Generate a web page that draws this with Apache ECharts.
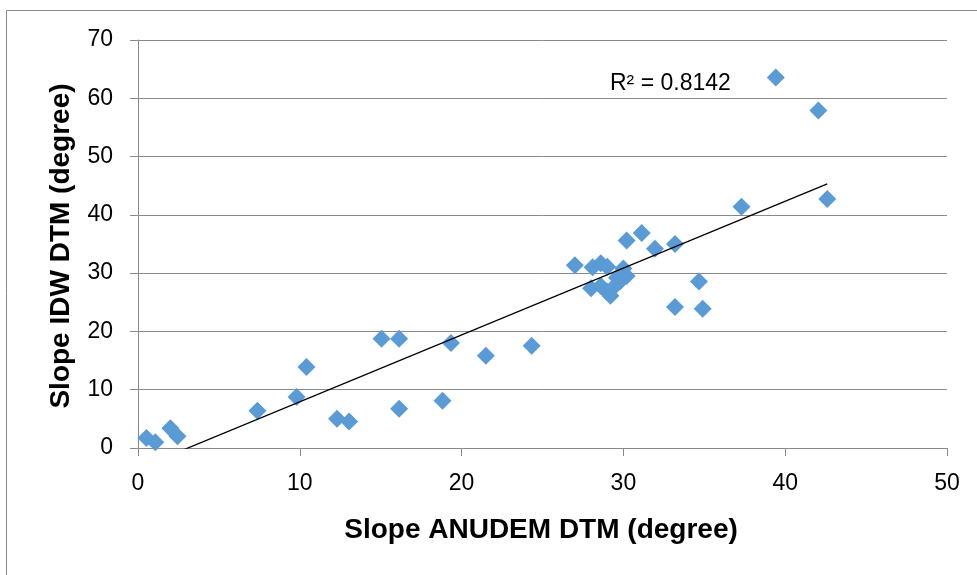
<!DOCTYPE html>
<html>
<head>
<meta charset="utf-8">
<title>Slope comparison</title>
<script src="https://cdn.jsdelivr.net/npm/echarts@6/dist/echarts.min.js"></script>
<style>
  html, body { margin: 0; padding: 0; background: #fff; }
  #chart { width: 977px; height: 575px; }
</style>
</head>
<body>
<div id="chart"></div>
<script>
// Slope from the ANUDEM DTM (x) against slope from the IDW DTM (y), in degrees
const anudemSlope = [
  0.52, 1.07, 2.0, 2.44, 7.38, 9.8, 10.41, 12.3, 13.05, 15.05,
  16.14, 16.14, 18.82, 19.34, 21.5, 24.33, 27.0, 30.2, 31.13, 31.95,
  33.19, 34.67, 33.19, 34.9, 37.3, 39.42, 42.05, 42.6,
  28.1, 28.6, 29.0, 28.0, 28.6, 29.2, 29.0, 29.5, 29.8, 30.0, 30.2, 29.6
];
const idwSlope = [
  1.7, 1.0, 3.4, 2.0, 6.4, 8.75, 13.9, 5.0, 4.56, 18.75,
  18.75, 6.74, 8.11, 18.0, 15.83, 17.55, 31.35, 35.6, 36.88, 34.2,
  35.0, 28.58, 24.2, 23.9, 41.4, 63.57, 57.9, 42.7,
  31.0, 31.7, 31.1, 27.4, 27.8, 26.1, 26.8, 27.9, 28.6, 30.8, 29.5, 29.2
];

// Linear trendline y = a*x + b and its reported fit
const trendSlope = 1.147;
const trendIntercept = -3.54;
const rSquaredLabel = 'R² = 0.8142';

// Axis ranges and tick spacing
const xTicks = [0, 10, 20, 30, 40, 50];
const yTicks = [0, 10, 20, 30, 40, 50, 60, 70];

const points = anudemSlope.map((x, i) => [x, idwSlope[i]]);
const xMin = Math.min(...anudemSlope);
const xMax = Math.max(...anudemSlope);
const trendPoints = [xMin, xMax].map(x => [x, trendSlope * x + trendIntercept]);

const GRAY = '#8a8a8a';
const FONT = 'Liberation Sans, Arial, sans-serif';

const chart = echarts.init(document.getElementById('chart'), null, { renderer: 'canvas' });
chart.setOption({
  backgroundColor: '#ffffff',
  animation: false,
  grid: { left: 138, right: 30, top: 40, bottom: 127 },
  xAxis: {
    type: 'value',
    min: xTicks[0],
    max: xTicks[xTicks.length - 1],
    interval: xTicks[1] - xTicks[0],
    axisLine: { show: true, lineStyle: { color: GRAY, width: 1 } },
    axisTick: { show: true, inside: false, length: 8, lineStyle: { color: GRAY } },
    splitLine: { show: false },
    axisLabel: { color: '#000', fontFamily: FONT, fontSize: 23, margin: 24 }
  },
  yAxis: {
    type: 'value',
    min: yTicks[0],
    max: yTicks[yTicks.length - 1],
    interval: yTicks[1] - yTicks[0],
    axisLine: { show: true, lineStyle: { color: GRAY, width: 1 } },
    axisTick: { show: true, inside: false, length: 8, lineStyle: { color: GRAY } },
    splitLine: { show: true, lineStyle: { color: GRAY, width: 1 } },
    axisLabel: { color: '#000', fontFamily: FONT, fontSize: 23, margin: 25 }
  },
  series: [
    {
      type: 'scatter',
      data: points,
      symbol: 'diamond',
      symbolSize: [18, 18],
      itemStyle: { color: '#5B9BD5', opacity: 1 },
      z: 2
    },
    {
      type: 'line',
      data: trendPoints,
      symbol: 'none',
      clip: true,
      lineStyle: { color: '#000', width: 1.3 },
      z: 3
    }
  ],
  graphic: [
    {
      type: 'rect',
      shape: { x: 6.5, y: 10.5, width: 1000, height: 600 },
      style: { fill: 'none', stroke: GRAY, lineWidth: 1 },
      silent: true
    },
    {
      type: 'text',
      left: 610,
      top: 72,
      style: { text: rSquaredLabel, fill: '#000', font: '23px ' + FONT }
    },
    {
      type: 'text',
      x: 541,
      y: 530,
      style: {
        text: 'Slope ANUDEM DTM (degree)',
        fill: '#000',
        font: 'bold 28px ' + FONT,
        align: 'center',
        verticalAlign: 'middle'
      }
    },
    {
      type: 'text',
      x: 61,
      y: 246,
      rotation: Math.PI / 2,
      style: {
        text: 'Slope IDW DTM (degree)',
        fill: '#000',
        font: 'bold 28px ' + FONT,
        align: 'center',
        verticalAlign: 'middle'
      }
    }
  ]
});
</script>
</body>
</html>
